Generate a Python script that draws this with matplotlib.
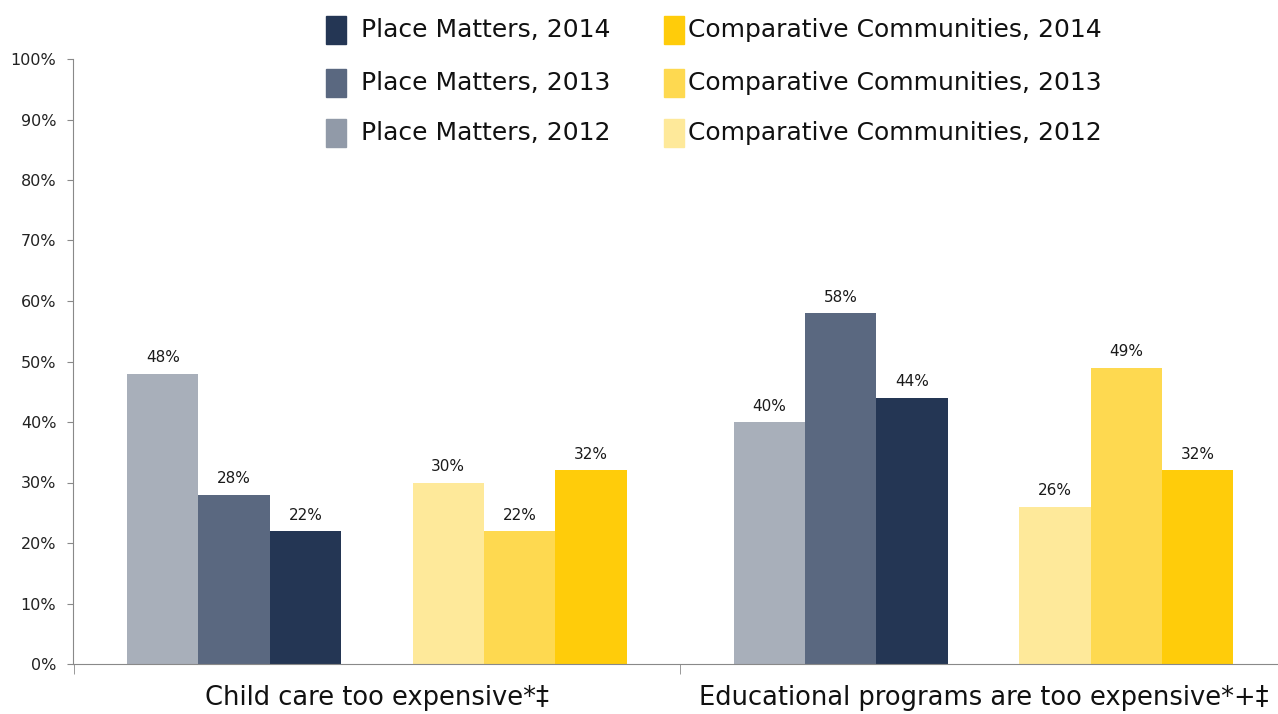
import matplotlib.pyplot as plt
import matplotlib.patches as mpatches
import numpy as np

categories = ["Child care too expensive*\u2021", "Educational programs are too expensive*+\u2021"]
series = ["Place Matters, 2012", "Place Matters, 2013", "Place Matters, 2014",
          "Comparative Communities, 2012", "Comparative Communities, 2013", "Comparative Communities, 2014"]
values = [
    [48, 40],
    [28, 58],
    [22, 44],
    [30, 26],
    [22, 49],
    [32, 32],
]
colors = ["#a8afba", "#5a6880", "#243654", "#fee99a", "#fed950", "#ffcc0a"]
legend_colors = ["#919aa8", "#5a6880", "#243654", "#fee99a", "#fed950", "#ffcc0a"]

plt.rcParams['font.family'] = ['DejaVu Sans']

fig = plt.figure(figsize=(12.78, 7.14), dpi=100)
ax = fig.add_axes([73/1278, 50/714, (1278-73)/1278, 605/714])

w = 0.1177
offsets = [-3, -2, -1, 1, 2, 3]
x = np.arange(len(categories))
for i in range(len(series)):
    vals = np.array(values[i]) / 100
    bars = ax.bar(x + offsets[i]*w, vals, width=w, color=colors[i], linewidth=0)
    for b, v in zip(bars, values[i]):
        ax.annotate(f"{v}%", (b.get_x() + b.get_width()/2, b.get_height()),
                    xytext=(0, 6), textcoords="offset points",
                    ha="center", va="bottom", fontsize=11, color="#1a1a1a")

ax.set_xlim(-0.501, 1.4856)
ax.set_ylim(0, 1)
ax.set_yticks(np.arange(0, 1.01, 0.1))
ax.set_yticklabels([f"{int(round(t*100))}%" for t in np.arange(0, 1.01, 0.1)], fontsize=11.5, color="#222222")
ax.set_xticks(x)
ax.set_xticklabels(categories, fontsize=18.5, color="#111111")
ax.set_xticks([-0.5, 0.5], minor=True)
ax.tick_params(axis="x", which="major", length=0, pad=15)
ax.tick_params(axis="x", which="minor", length=7, color="#898989", direction="out")
ax.tick_params(axis="y", length=4, color="#898989", direction="out", pad=8)
for s in ["top", "right"]:
    ax.spines[s].set_visible(False)
for s in ["left", "bottom"]:
    ax.spines[s].set_color("#898989")

# legend drawn in two columns above the plot
order = [2, 1, 0, 5, 4, 3]
rows_y = [30, 83, 133]
col_x = [(326, 361), (664, 688)]
for k, idx in enumerate(order):
    col = k // 3
    row = k % 3
    sx, tx = col_x[col]
    yc = rows_y[row]
    fig.patches.append(mpatches.Rectangle((sx/1278, 1 - (yc+14)/714), 20/1278, 28/714,
                                          transform=fig.transFigure, color=legend_colors[idx]))
    fig.text(tx/1278, 1 - yc/714, series[idx], fontsize=18, va="center", ha="left", color="#111111")

fig.savefig("out.png", dpi=100)
